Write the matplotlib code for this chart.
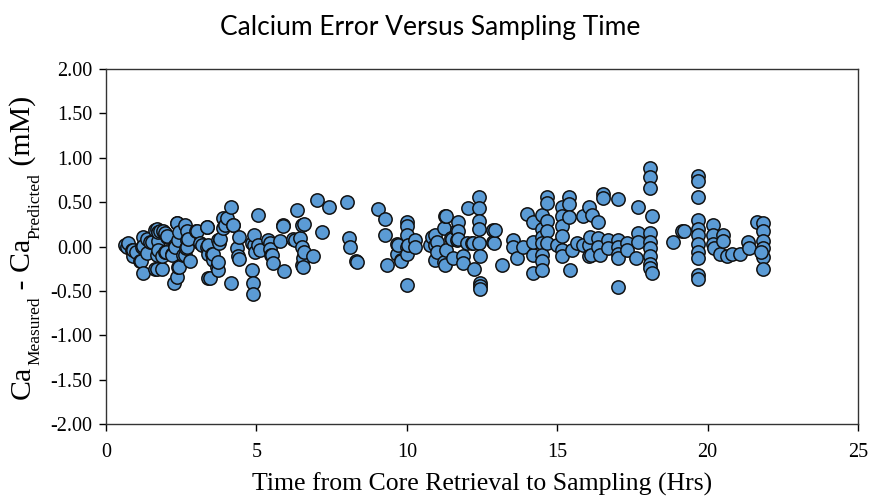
import matplotlib
matplotlib.use("Agg")
import matplotlib.pyplot as plt
from matplotlib.ticker import FormatStrFormatter
from matplotlib.transforms import offset_copy

# (hours, error) pairs
hours = [
    0.63, 0.69, 0.74, 0.85, 0.91, 0.91, 1.0, 1.13, 1.15, 1.19, 1.22, 1.24, 1.24, 1.35, 1.35, 1.46,
    1.52, 1.63, 1.63, 1.69, 1.69, 1.69, 1.74, 1.74, 1.74, 1.8, 1.85, 1.85, 1.91, 1.96, 1.96, 1.99,
    2.02, 2.04, 2.18, 2.18, 2.26, 2.29, 2.29, 2.35, 2.35, 2.37, 2.41, 2.41, 2.44, 2.44, 2.57, 2.63,
    2.63, 2.66, 2.7, 2.7, 2.7, 2.74, 2.79, 2.99, 3.01, 3.12, 3.18, 3.35, 3.37, 3.37, 3.4, 3.4,
    3.4, 3.46, 3.51, 3.55, 3.57, 3.7, 3.71, 3.73, 3.73, 3.75, 3.79, 3.9, 3.9, 3.96, 4.01, 4.16,
    4.16, 4.21, 4.23, 4.34, 4.4, 4.43, 4.43, 4.84, 4.86, 4.88, 4.9, 4.92, 4.93, 4.95, 5.04, 5.06,
    5.12, 5.4, 5.45, 5.46, 5.48, 5.51, 5.56, 5.78, 5.87, 5.89, 5.93, 6.23, 6.28, 6.34, 6.45, 6.5,
    6.5, 6.5, 6.56, 6.56, 6.58, 6.58, 6.89, 7.0, 7.17, 7.42, 8.02, 8.09, 8.11, 8.31, 8.33, 9.05,
    9.27, 9.27, 9.35, 9.66, 9.69, 9.72, 9.8, 9.81, 10.0, 10.02, 10.02, 10.02, 10.0, 10.0, 10.03, 10.27,
    10.27, 10.77, 10.85, 10.94, 10.94, 10.94, 11.0, 11.0, 11.25, 11.25, 11.27, 11.27, 11.29, 11.3, 11.47, 11.49,
    11.55, 11.66, 11.66, 11.71, 11.71, 11.71, 11.86, 11.88, 11.99, 12.05, 12.16, 12.19, 12.24, 12.41, 12.41, 12.41,
    12.41, 12.41, 12.43, 12.43, 12.43, 12.43, 12.86, 12.88, 12.9, 12.93, 13.15, 13.54, 13.54, 13.65, 13.87, 14.01,
    14.19, 14.19, 14.19, 14.19, 14.48, 14.48, 14.48, 14.48, 14.48, 14.48, 14.48, 14.67, 14.67, 14.67, 14.67, 14.67,
    14.98, 15.15, 15.15, 15.15, 15.15, 15.15, 15.15, 15.4, 15.4, 15.4, 15.48, 15.43, 15.65, 15.87, 15.87, 16.04,
    16.04, 16.04, 16.09, 16.13, 16.17, 16.35, 16.35, 16.35, 16.42, 16.53, 16.53, 16.7, 16.7, 17.03, 17.03, 17.03,
    17.03, 17.03, 17.03, 17.31, 17.31, 17.61, 17.7, 17.7, 17.7, 18.09, 18.09, 18.09, 18.14, 18.09, 18.09, 18.09,
    18.09, 18.09, 18.09, 18.15, 18.86, 19.16, 19.22, 19.69, 19.69, 19.69, 19.69, 19.69, 19.69, 19.69, 19.69, 19.69,
    19.69, 19.69, 20.19, 20.19, 20.19, 20.2, 20.41, 20.5, 20.5, 20.63, 20.8, 21.08, 21.35, 21.38, 21.65, 21.83,
    21.83, 21.83, 21.83, 21.83, 21.83, 21.78,
]
errors = [
    0.02, 0.0, 0.04, -0.04, -0.11, -0.04, -0.06, -0.16, -0.16, 0.0, -0.3, 0.11, 0.01, 0.09, -0.07, 0.05,
    0.05, 0.19, -0.25, 0.2, -0.1, -0.25, 0.06, 0.16, -0.04, 0.17, -0.25, -0.11, 0.17, -0.06, 0.15, -0.06,
    0.11, 0.12, -0.09, -0.1, -0.41, 0.02, 0.0, 0.26, -0.34, 0.26, 0.07, -0.23, 0.16, -0.23, -0.1, 0.24,
    -0.1, -0.02, 0.17, 0.07, -0.01, 0.08, -0.16, 0.17, 0.17, 0.04, 0.02, 0.22, 0.22, 0.0, -0.09, 0.02,
    -0.35, -0.36, -0.08, -0.15, -0.09, -0.23, 0.07, -0.26, -0.17, 0.04, 0.09, 0.32, 0.21, 0.24, 0.32, 0.44,
    -0.41, 0.24, 0.24, -0.02, -0.11, 0.11, -0.14, 0.04, -0.26, -0.41, -0.54, 0.02, 0.13, -0.06, 0.36, 0.02,
    -0.04, 0.07, 0.04, -0.03, -0.1, -0.1, -0.19, 0.06, 0.24, 0.23, -0.28, 0.09, 0.07, 0.41, 0.1, 0.24,
    0.0, -0.21, -0.13, -0.23, 0.25, -0.06, -0.11, 0.52, 0.16, 0.45, 0.5, 0.1, 0.0, -0.16, -0.18, 0.42,
    0.31, 0.13, -0.21, 0.03, -0.08, 0.02, -0.15, -0.16, 0.28, 0.23, 0.13, 0.0, -0.08, -0.43, 0.02, 0.07,
    0.0, 0.02, 0.11, 0.13, 0.02, -0.15, 0.05, -0.06, 0.21, -0.18, 0.34, -0.21, 0.34, -0.04, 0.1, 0.09,
    -0.13, 0.07, 0.19, 0.28, 0.18, 0.09, -0.11, -0.19, 0.04, 0.43, 0.04, 0.04, -0.25, 0.56, 0.43, 0.29,
    0.2, 0.04, -0.11, -0.41, -0.45, -0.48, 0.05, 0.19, 0.04, 0.19, -0.21, 0.07, -0.01, -0.13, 0.0, 0.37,
    0.28, -0.1, -0.3, 0.05, 0.35, 0.2, 0.11, 0.04, -0.1, -0.16, -0.26, 0.56, 0.49, 0.29, 0.18, 0.04,
    0.02, 0.45, 0.34, 0.23, 0.12, -0.04, -0.11, 0.56, 0.48, 0.33, -0.04, -0.26, 0.04, 0.34, 0.02, 0.45,
    0.02, -0.11, 0.11, -0.1, 0.35, 0.28, 0.1, 0.0, -0.1, 0.59, 0.55, 0.07, -0.02, 0.54, 0.07, 0.0,
    -0.08, -0.13, -0.46, 0.04, -0.04, -0.13, 0.44, 0.15, 0.05, 0.89, 0.78, 0.66, 0.34, 0.15, 0.05, -0.02,
    -0.11, -0.2, -0.24, -0.3, 0.05, 0.17, 0.17, 0.8, 0.74, 0.56, 0.3, 0.2, 0.13, 0.03, -0.06, -0.13,
    -0.32, -0.37, 0.24, 0.13, 0.03, -0.02, -0.08, 0.13, 0.06, -0.11, -0.08, -0.08, 0.05, -0.02, 0.28, 0.26,
    0.17, 0.06, -0.02, -0.12, -0.25, -0.06,
]
x_ticks = [0, 5, 10, 15, 20, 25]
y_ticks = [-2.0, -1.5, -1.0, -0.5, 0.0, 0.5, 1.0, 1.5, 2.0]
ylabel_parts = [('Ca', 'main'), ('Measured', 'sub'), (' - Ca', 'main'), ('Predicted', 'sub'), (' (mM)', 'main')]

serif = 'Liberation Serif'
fig = plt.figure(figsize=(8.73, 4.98), dpi=100)
ax = fig.add_axes([0.1214, 0.1486, 0.8615, 0.7128])
ax.scatter(hours, errors, s=92, facecolor='#5B9BD5', edgecolor='#111111',
           linewidth=1.1, zorder=3)
ax.set_xlim(0, 25)
ax.set_ylim(-2, 2)
ax.set_xticks(x_ticks)
ax.set_yticks(y_ticks)
ax.yaxis.set_major_formatter(FormatStrFormatter('%.2f'))
ax.tick_params(direction='out', length=5, width=1, labelsize=14.5)
ax.tick_params(axis='x', pad=9)
ax.tick_params(axis='y', pad=5)
for lab in ax.get_xticklabels() + ax.get_yticklabels():
    lab.set_fontfamily(serif)
for sp in ax.spines.values():
    sp.set_linewidth(1)
    sp.set_color('#333333')

ax.set_xlabel('Time from Core Retrieval to Sampling (Hrs)', fontfamily=serif,
              fontsize=18.5, labelpad=7)
fig.text(0.4925, 0.945, 'Calcium Error Versus Sampling Time', ha='center', va='center',
         fontfamily='Lato', fontsize=19)

# y label built from pieces so the subscripts can be much smaller
renderer = fig.canvas.get_renderer()
sizes = {'main': 21.5, 'sub': 12.5}
shift = {'main': 0, 'sub': 7}   # pixels to the right (down in rotated text)
texts = []
widths = []
for s, kind in ylabel_parts:
    t = fig.text(0, 0, s, rotation=90, fontfamily=serif, fontsize=sizes[kind],
                 ha='left', va='bottom', rotation_mode='anchor')
    bb = t.get_window_extent(renderer)
    texts.append((t, kind))
    widths.append(bb.height)
total = sum(widths)
x0 = 36  # baseline pixel x for main text
y_center = 498 - 247
ycur = y_center - total / 2
for (t, kind), w in zip(texts, widths):
    t.set_transform(None)
    t.set_position((x0 + shift[kind], ycur))
    ycur += w

fig.savefig('out.png', dpi=100)
